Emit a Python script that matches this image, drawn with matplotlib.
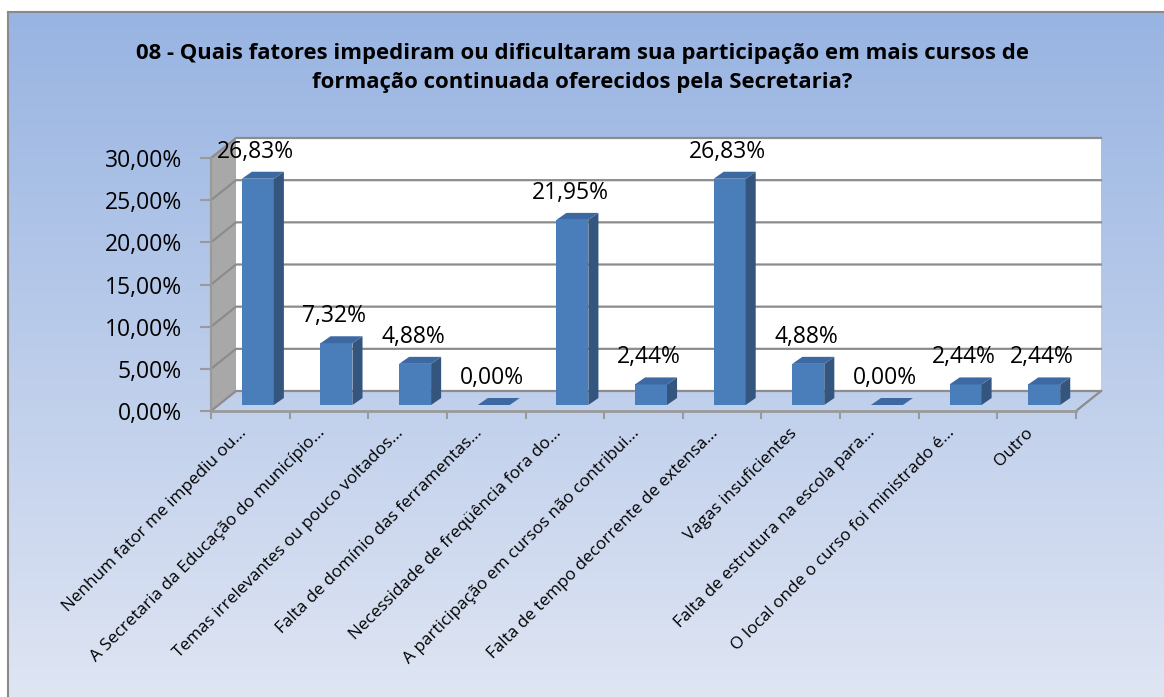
import numpy as np
import matplotlib
matplotlib.use("Agg")
import matplotlib.pyplot as plt
from matplotlib.patches import Polygon
from matplotlib.transforms import ScaledTranslation

# ===============================
# DATA
# ===============================
categories = [
    "Nenhum fator me impediu ou...",
    "A Secretaria da Educação do município...",
    "Temas irrelevantes ou pouco voltados...",
    "Falta de domínio das ferramentas...",
    "Necessidade de freqüência fora do...",
    "A participação em cursos não contribui...",
    "Falta de tempo decorrente de extensa...",
    "Vagas insuficientes",
    "Falta de estrutura na escola para...",
    "O local onde o curso foi ministrado é...",
    "Outro",
]
values = [26.83, 7.32, 4.88, 0.00, 21.95, 2.44, 26.83, 4.88, 0.00, 2.44, 2.44]
y_ticks = [0, 5, 10, 15, 20, 25, 30]
title = ("08 - Quais fatores impediram ou dificultaram sua participação em mais cursos de\n"
         "formação continuada oferecidos pela Secretaria?")

# ===============================
# STYLE
# ===============================
plt.rcParams["font.family"] = ["Open Sans", "DejaVu Sans"]
W, H, DPI = 1164, 697, 100
front_c, side_c, top_c = "#4a7ebb", "#33557e", "#3c69a1"
grid_c = "#8c8c8c"

fig = plt.figure(figsize=(W / DPI, H / DPI), dpi=DPI)
fig.patch.set_facecolor("white")

# background gradient inside the chart border
bg = fig.add_axes([8 / W, 0, 1 - 8 / W, 1 - 12 / H])
top_rgb = np.array([152, 180, 226]) / 255
bot_rgb = np.array([223, 229, 243]) / 255
t = np.linspace(0, 1, 256)[:, None]
grad = top_rgb * (1 - t) + bot_rgb * t
bg.imshow(grad[:, None, :], aspect="auto", extent=[0, 1, 0, 1])
bg.set_xticks([])
bg.set_yticks([])
for s in ["right", "bottom"]:
    bg.spines[s].set_visible(False)
for s in ["left", "top"]:
    bg.spines[s].set_color("#8a8a8a")
    bg.spines[s].set_linewidth(1.5)

fig.text(0.5, 1 - 68 / H, title, ha="center", va="center",
         fontsize=15.9, fontweight="bold", linespacing=1.45)

# ===============================
# 3D AXES (front plane = data coords)
# ===============================
x0_px, x1_px, y0_px, y30_px = 211, 1076, 411, 158
ax = fig.add_axes([x0_px / W, 1 - y0_px / H, (x1_px - x0_px) / W, (y0_px - y30_px) / H])
ax.set_facecolor("none")
n = len(categories)
ax.set_xlim(-0.5, n - 0.5)
ax.set_ylim(0, 30)

px_x = (x1_px - x0_px) / n          # pixels per category
px_y = (y0_px - y30_px) / 30        # pixels per percent
DX = 25 / px_x                      # wall depth offset in data units
DY = 20 / px_y

# left wall
lw = Polygon([(-0.5, 0), (-0.5, 30), (-0.5 + DX, 30 + DY), (-0.5 + DX, DY)],
             closed=True, facecolor="#a8a8a8", edgecolor="none", clip_on=False, zorder=1)
ax.add_patch(lw)
# back wall
bw = Polygon([(-0.5 + DX, DY), (-0.5 + DX, 30 + DY), (n - 0.5 + DX, 30 + DY), (n - 0.5 + DX, DY)],
             closed=True, facecolor="white", edgecolor="none", clip_on=False, zorder=1)
ax.add_patch(bw)
# gridlines on walls
for v in y_ticks:
    ax.plot([-0.5, -0.5 + DX, n - 0.5 + DX], [v, v + DY, v + DY],
            color=grid_c, lw=1.6, clip_on=False, zorder=2)
# floor edges
ax.plot([n - 0.5, n - 0.5 + DX], [0, DY], color=grid_c, lw=1.6, clip_on=False, zorder=2)
ax.plot([-0.5, n - 0.5], [0, 0], color="#9a9a9a", lw=2, clip_on=False, zorder=2)
ax.plot([-0.5, -0.5], [0, 30], color="#9a9a9a", lw=1.6, clip_on=False, zorder=2)

# bars
d0, d1 = 0.30, 0.65
bw_half = 16 / px_x
for i, v in enumerate(values):
    xl = i + d0 * DX - bw_half
    xr = i + d0 * DX + bw_half
    yb = d0 * DY
    ddx = (d1 - d0) * DX * 1.15
    ddy = (d1 - d0) * DY
    yt = yb + v
    if v > 0:
        ax.add_patch(Polygon([(xl, yb), (xr, yb), (xr, yt), (xl, yt)],
                             facecolor=front_c, edgecolor="none", zorder=3, clip_on=False))
        ax.add_patch(Polygon([(xr, yb), (xr + ddx, yb + ddy), (xr + ddx, yt + ddy), (xr, yt)],
                             facecolor=side_c, edgecolor="none", zorder=3, clip_on=False))
    ax.add_patch(Polygon([(xl, yt), (xr, yt), (xr + ddx, yt + ddy), (xl + ddx, yt + ddy)],
                         facecolor=top_c, edgecolor="none", zorder=3, clip_on=False))
    ax.annotate(f"{v:.2f}%".replace(".", ","), (i + d0 * DX, yt),
                xytext=(-2, 27), textcoords="offset pixels", ha="center", va="center",
                fontsize=16.5, zorder=4, annotation_clip=False)

# axes ticks and labels
for s in ax.spines.values():
    s.set_visible(False)
ax.set_yticks(y_ticks)
ax.set_yticklabels([f"{v:.2f}%".replace(".", ",") for v in y_ticks], fontsize=16.5)
ax.tick_params(axis="y", direction="out", length=8, width=1.5, color="#9a9a9a", pad=13)
ax.set_xticks(range(n))
ax.set_xticklabels(categories, rotation=45, ha="right", rotation_mode="anchor", fontsize=12.3)
ax.set_xticks(np.arange(-0.5, n, 1), minor=True)
ax.tick_params(axis="x", which="major", length=0, pad=10)
ax.tick_params(axis="x", which="minor", direction="out", length=6, width=1.5, color="#9a9a9a")
shift = ScaledTranslation(-12 / DPI, 0, fig.dpi_scale_trans)
for lab in ax.get_xticklabels():
    lab.set_transform(lab.get_transform() + shift)

fig.savefig("out.png", dpi=DPI)
